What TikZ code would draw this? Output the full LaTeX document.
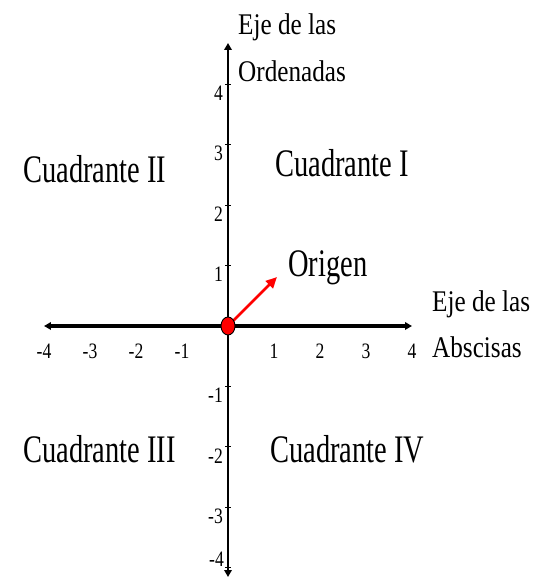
\documentclass[tikz,border=0pt]{standalone}
\usepackage{fontspec}
\setmainfont{Liberation Serif}
\newfontfamily\quadfont[FakeStretch=0.73]{Liberation Serif}
\newfontfamily\axfont[FakeStretch=0.84]{Liberation Serif}
\newfontfamily\numfont[FakeStretch=0.8]{Liberation Serif}
\usetikzlibrary{arrows.meta,shapes.geometric}
\begin{document}
\begin{tikzpicture}[x=46pt,y=60.4pt,
    >={Triangle[length=7pt,width=7.5pt]},
    quad/.style={anchor=base west, inner sep=0pt, font=\quadfont\fontsize{39}{44}\selectfont},
    axname/.style={anchor=base west, inner sep=0pt, font=\axfont\fontsize{30}{36}\selectfont},
    num/.style={inner sep=0pt, font=\numfont\fontsize{22}{26}\selectfont}]
  \useasboundingbox (-228pt,-254pt) rectangle (307pt,326pt);
  \coordinate (xl) at (-4,0);
  \coordinate (xr) at (4,0);
  \coordinate (yt) at (0pt,283pt);
  \coordinate (yb) at (0pt,-251pt);
  \draw[<->,line width=3.2pt] (xl) -- (xr);
  \draw[<->,line width=2.8pt] (yb) -- (yt);
  % marcas y numeros
  \foreach \k in {-4,...,-1,1,2,3,4} {
    \draw[line width=0.9pt] ([xshift=-3pt]0,\k) -- ([xshift=3pt]0,\k);
    \node[num] (nx\k) at ([yshift=-25pt]\k,0) {\k};
  }
  \foreach \k in {1,...,4,-1,-2,-3}
    \node[num,anchor=east] (ny\k) at ([xshift=-5pt,yshift=-9pt]0,\k) {\k};
  \node[num,anchor=east] (ny-4) at ([xshift=-4pt,yshift=8pt]0,-4) {-4};
  % origen
  \coordinate (otip) at (49pt,49pt);
  \draw[-{Triangle[length=11pt,width=10pt]},red,line width=2.8pt] (0,0) -- (otip);
  \node[ellipse,draw=black,line width=0.9pt,fill=red,minimum width=14pt,minimum height=18pt,inner sep=0pt] (orig) at (0,0) {};
  \node[quad] (orlab) at (60pt,49pt) {Origen};
  % ejes
  \node[axname] (ylab1) at (10pt,291pt) {Eje de las};
  \node[axname] (ylab2) at (10pt,244pt) {Ordenadas};
  \node[axname] (xlab1) at (204pt,14pt) {Eje de las};
  \node[axname] (xlab2) at (204pt,-32pt) {Abscisas};
  % cuadrantes
  \node[quad] (q1) at (47pt,149pt) {Cuadrante I};
  \node[quad] (q2) at (-205pt,143pt) {Cuadrante II};
  \node[quad] (q3) at (-205pt,-136pt) {Cuadrante III};
  \node[quad] (q4) at (42pt,-136pt) {Cuadrante IV};
\end{tikzpicture}
\end{document}
